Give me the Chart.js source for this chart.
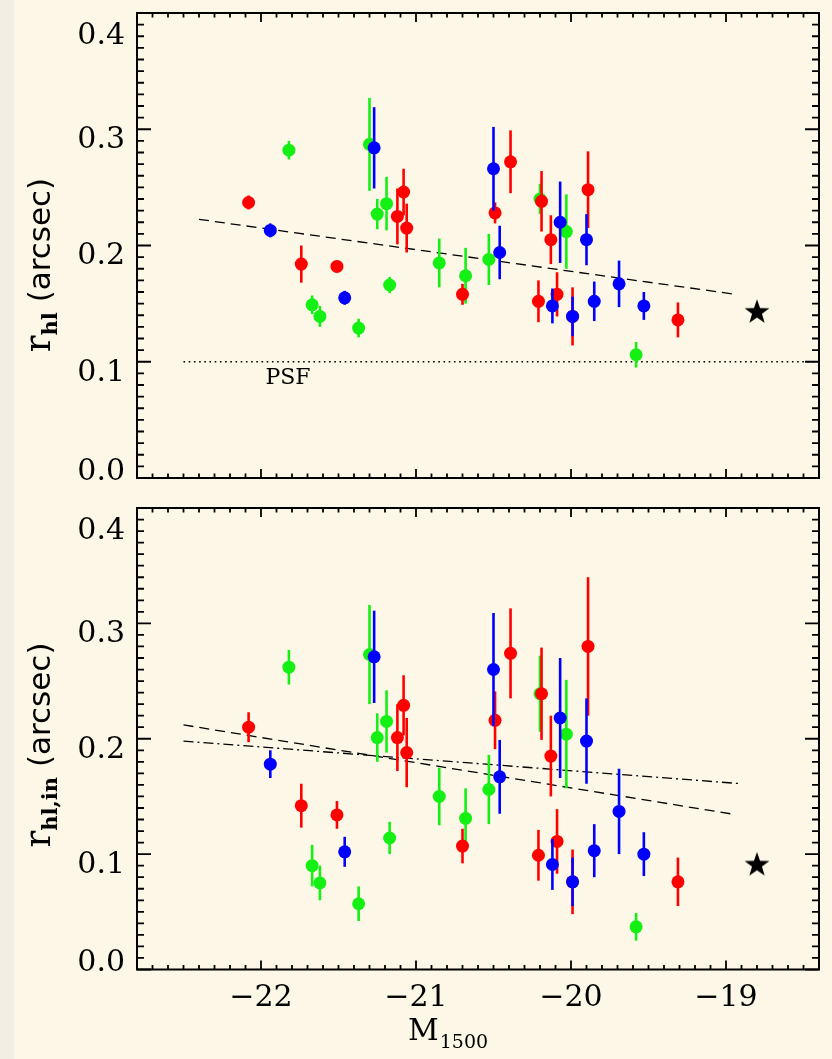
<!DOCTYPE html>
<html><head><meta charset="utf-8">
<script src="https://cdn.jsdelivr.net/npm/chart.js@4"></script>
<style>
html,body{margin:0;padding:0;background:#FCF7E6;}
#wrap{position:relative;width:832px;height:1059px;overflow:hidden;background:#FCF7E6;}
#strip{position:absolute;left:0;top:0;width:14px;height:1059px;background:#F3EEE4;}
canvas{position:absolute;left:0;}
</style></head><body>
<div id="wrap"><div id="strip"></div>
<canvas id="c1" width="832" height="495" style="top:0px"></canvas>
<canvas id="c2" width="832" height="564" style="top:495px"></canvas>
</div>
<script>
// ---------- data ----------
const redM   = [-22.08,-21.74,-21.51,-21.12,-21.08,-21.06,-20.70,-20.49,-20.39,-20.21,-20.19,-20.13,-20.09,-19.99,-19.89,-19.31];
const topRedR   = [0.237,0.184,0.182,0.225,0.246,0.215,0.158,0.228,0.272,0.152,0.238,0.205,0.158,0.139,0.248,0.136];
const topRedErr = [0.006,0.016,0.003,0.024,0.020,0.021,0.009,0.009,0.027,0.018,0.026,0.021,0.019,0.025,0.033,0.015];
const botRedR   = [0.210,0.142,0.134,0.201,0.229,0.188,0.107,0.216,0.274,0.099,0.239,0.185,0.111,0.076,0.280,0.076];
const botRedErr = [0.013,0.019,0.012,0.029,0.026,0.030,0.015,0.025,0.039,0.022,0.040,0.035,0.028,0.028,0.060,0.021];

const greenM = [-21.82,-21.67,-21.62,-21.37,-21.30,-21.25,-21.19,-21.17,-20.85,-20.68,-20.53,-20.20,-20.03,-19.58];
const topGreenR   = [0.282,0.149,0.139,0.129,0.287,0.227,0.236,0.166,0.185,0.174,0.188,0.240,0.212,0.106];
const topGreenErr = [0.008,0.008,0.009,0.008,0.040,0.013,0.023,0.007,0.021,0.024,0.022,0.013,0.032,0.011];
const botGreenR   = [0.262,0.090,0.075,0.057,0.273,0.201,0.215,0.114,0.150,0.131,0.156,0.239,0.204,0.037];
const botGreenErr = [0.015,0.018,0.015,0.015,0.043,0.021,0.027,0.014,0.025,0.026,0.030,0.033,0.047,0.012];

const blueM  = [-21.94,-21.46,-21.27,-20.50,-20.46,-20.12,-20.07,-19.99,-19.90,-19.85,-19.69,-19.53];
const topBlueR   = [0.213,0.155,0.284,0.266,0.194,0.148,0.220,0.139,0.205,0.152,0.167,0.148];
const topBlueErr = [0.006,0.006,0.035,0.036,0.023,0.015,0.035,0.017,0.022,0.017,0.020,0.012];
const botBlueR   = [0.178,0.102,0.271,0.260,0.167,0.091,0.218,0.076,0.198,0.103,0.137,0.100];
const botBlueErr = [0.012,0.013,0.040,0.049,0.032,0.022,0.052,0.021,0.037,0.023,0.037,0.019];

const starM = [-18.8];
const topStarR = [0.143];
const botStarR = [0.091];

const topFitM = [-22.40,-18.96];
const topFitR = [0.2225,0.1584];
const psfM = [-22.5,-18.4];
const psfR = [0.1,0.1];
const botFitM = [-22.5,-18.95];
const botFitR = [0.212,0.1345];
const botFit2M = [-22.5,-18.9];
const botFit2R = [0.198,0.161];

const xTickLabels = [-22,-21,-20,-19];
const yTickLabels = [0.0,0.1,0.2,0.3,0.4];

// ---------- helpers ----------
const pts = (xs, ys) => xs.map((x,i)=>({x:x, y:ys[i]}));
const RED='#FF0000', GREEN='#14F014', BLUE='#0000FF';

const starImg = (function(){
  const c=document.createElement('canvas'); c.width=28; c.height=28;
  const g=c.getContext('2d'); g.fillStyle='#000'; g.beginPath();
  const R=13, r=5.2;
  for(let i=0;i<10;i++){const a=-Math.PI/2+i*Math.PI/5; const rr=i%2?r:R;
    g.lineTo(14+rr*Math.cos(a),14.5+rr*Math.sin(a));}
  g.closePath(); g.fill(); return c;
})();

function scatterSet(xs, ys, errs, color, order){
  return {data:pts(xs,ys), errs:errs, backgroundColor:color, borderColor:color,
    pointRadius:6.5, pointHoverRadius:6.5, borderWidth:0, showLine:false, order:order};
}
function lineSet(xs, ys, dash, width){
  return {data:pts(xs,ys), showLine:true, borderColor:'#000', borderWidth:width||1.3,
    borderDash:dash, pointRadius:0, pointHoverRadius:0, fill:false, order:10};
}

const axPlugin = {
  id:'ax',
  beforeDatasetDraw(chart,args){
    const ds=chart.data.datasets[args.index];
    if(!ds.errs) return;
    const ctx=chart.ctx, xs=chart.scales.x, ys=chart.scales.y;
    ctx.save(); ctx.strokeStyle=ds.backgroundColor; ctx.lineWidth=2.6; ctx.lineCap='butt';
    ds.data.forEach((p,i)=>{
      const px=xs.getPixelForValue(p.x);
      ctx.beginPath(); ctx.moveTo(px,ys.getPixelForValue(p.y-ds.errs[i]));
      ctx.lineTo(px,ys.getPixelForValue(p.y+ds.errs[i])); ctx.stroke();
    });
    ctx.restore();
  },
  afterDraw(chart,args,opts){
    const ctx=chart.ctx, xs=chart.scales.x, ys=chart.scales.y, a=chart.chartArea;
    ctx.save();
    ctx.strokeStyle='#000'; ctx.lineWidth=2;
    ctx.strokeRect(a.left,a.top,a.right-a.left,a.bottom-a.top);
    ctx.lineWidth=1.8;
    ctx.beginPath();
    for(let i=-228;i<=-184;i++){
      const v=i/10, px=xs.getPixelForValue(v), L=(i%10===0)?9:4.5;
      ctx.moveTo(px,a.bottom); ctx.lineTo(px,a.bottom-L);
      ctx.moveTo(px,a.top); ctx.lineTo(px,a.top+L);
    }
    for(let i=0;i<=40;i++){
      const v=i/100, py=ys.getPixelForValue(v), L=(i%10===0)?14:7;
      ctx.moveTo(a.left,py); ctx.lineTo(a.left+L,py);
      ctx.moveTo(a.right,py); ctx.lineTo(a.right-L,py);
    }
    ctx.stroke();
    // y tick labels
    ctx.fillStyle='#000'; ctx.font='30px "DejaVu Serif"'; ctx.textAlign='right'; ctx.textBaseline='middle';
    yTickLabels.forEach(v=>{
      let py=ys.getPixelForValue(v);
      if(v===0.4) py+=23; else if(v===0) py-=6; else py+=11;
      ctx.fillText(v.toFixed(1),125,py);
    });
    // x tick labels
    if(opts.xLabels){
      ctx.textAlign='center'; ctx.textBaseline='alphabetic'; ctx.font='30px "DejaVu Serif"';
      xTickLabels.forEach(v=>{ctx.fillText('\u2212'+Math.abs(v),xs.getPixelForValue(v),opts.xLabelBase);});
      // x title
      ctx.textAlign='left';
      ctx.font='30px "DejaVu Serif"'; ctx.fillText('M',408,opts.xTitleBase);
      const mw=ctx.measureText('M').width;
      ctx.font='19px "DejaVu Serif"'; ctx.fillText('1500',408+mw+1,opts.xTitleBase+8);
    }
    // y title (rotated)
    const parts=opts.yTitle;
    let total=0;
    parts.forEach(p=>{ctx.font=p.font; p.w=ctx.measureText(p.t).width; total+=p.w;});
    ctx.translate(50,opts.yTitleCenter+total/2); ctx.rotate(-Math.PI/2);
    ctx.textAlign='left'; ctx.textBaseline='alphabetic';
    let x=0;
    parts.forEach(p=>{ctx.font=p.font; ctx.fillText(p.t,x,p.dy||0); x+=p.w;});
    ctx.restore();
    if(opts.psf){
      ctx.save(); ctx.fillStyle='#000'; ctx.font='22px "DejaVu Serif"';
      ctx.textAlign='center'; ctx.textBaseline='middle'; ctx.fillText('PSF',288,378); ctx.restore();
    }
  }
};

function baseOptions(pad, plug){
  return {responsive:false, animation:false, events:[],
    layout:{padding:pad},
    plugins:{legend:{display:false}, tooltip:{enabled:false}, ax:plug},
    scales:{x:{type:'linear',min:-22.8,max:-18.4,display:false},
            y:{type:'linear',min:0,max:0.4,display:false}}};
}

new Chart(document.getElementById('c1'),{
  type:'scatter',
  data:{datasets:[
    scatterSet(greenM,topGreenR,topGreenErr,GREEN,3),
    scatterSet(redM,topRedR,topRedErr,RED,2),
    scatterSet(blueM,topBlueR,topBlueErr,BLUE,1),
    {data:pts(starM,topStarR), pointStyle:starImg, pointRadius:12, order:0},
    lineSet(topFitM,topFitR,[10,6]),
    lineSet(psfM,psfR,[1.6,3.6],1.6)
  ]},
  options:baseOptions({left:137,right:5.5,top:10,bottom:17},
    {xLabels:false, psf:true, yTitleCenter:265,
     yTitle:[{t:'r',font:'35px "DejaVu Serif"'},{t:'hl',font:'bold 21px "DejaVu Serif"',dy:7},{t:' (arcsec)',font:'31px "DejaVu Sans"'}]}),
  plugins:[axPlugin]
});

new Chart(document.getElementById('c2'),{
  type:'scatter',
  data:{datasets:[
    scatterSet(greenM,botGreenR,botGreenErr,GREEN,3),
    scatterSet(redM,botRedR,botRedErr,RED,2),
    scatterSet(blueM,botBlueR,botBlueErr,BLUE,1),
    {data:pts(starM,botStarR), pointStyle:starImg, pointRadius:12, order:0},
    lineSet(botFitM,botFitR,[10,6]),
    lineSet(botFit2M,botFit2R,[10,4,2,4])
  ]},
  options:baseOptions({left:137,right:5.5,top:5,bottom:89.5},
    {xLabels:true, xLabelBase:511, xTitleBase:545, psf:false, yTitleCenter:250,
     yTitle:[{t:'r',font:'35px "DejaVu Serif"'},{t:'hl,in',font:'bold 21px "DejaVu Serif"',dy:7},{t:' (arcsec)',font:'31px "DejaVu Sans"'}]}),
  plugins:[axPlugin]
});
</script>
</body></html>
